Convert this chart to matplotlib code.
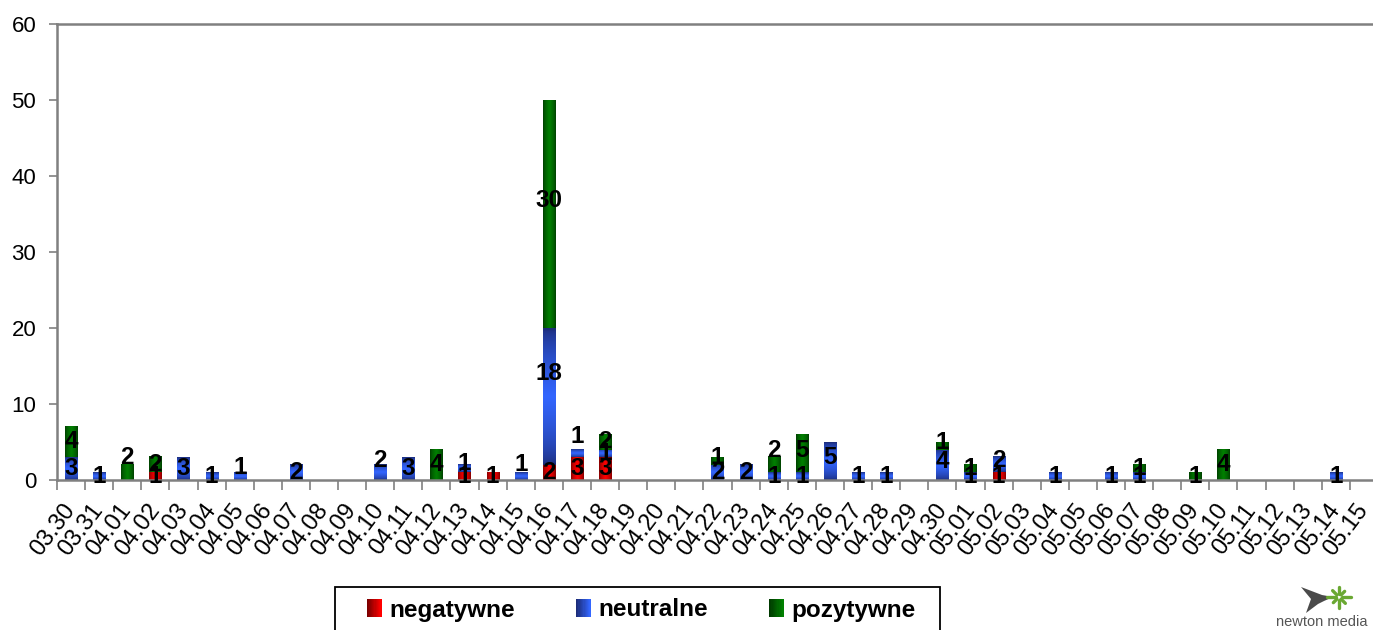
import numpy as np
import matplotlib
matplotlib.use("Agg")
import matplotlib.pyplot as plt
from matplotlib.patches import Rectangle, Polygon
from matplotlib.legend_handler import HandlerBase
from matplotlib.lines import Line2D
from matplotlib.colors import to_rgb

# ---------------- data ----------------
dates = ["03.30", "03.31",
         "04.01", "04.02", "04.03", "04.04", "04.05", "04.06", "04.07", "04.08", "04.09", "04.10",
         "04.11", "04.12", "04.13", "04.14", "04.15", "04.16", "04.17", "04.18", "04.19", "04.20",
         "04.21", "04.22", "04.23", "04.24", "04.25", "04.26", "04.27", "04.28", "04.29", "04.30",
         "05.01", "05.02", "05.03", "05.04", "05.05", "05.06", "05.07", "05.08", "05.09", "05.10",
         "05.11", "05.12", "05.13", "05.14", "05.15"]

negatywne = [0, 0, 0, 1, 0, 0, 0, 0, 0, 0,
             0, 0, 0, 0, 1, 1, 0, 2, 3, 3,
             0, 0, 0, 0, 0, 0, 0, 0, 0, 0,
             0, 0, 0, 1, 0, 0, 0, 0, 0, 0,
             0, 0, 0, 0, 0, 0, 0]
neutralne = [3, 1, 0, 0, 3, 1, 1, 0, 2, 0,
             0, 2, 3, 0, 1, 0, 1, 18, 1, 1,
             0, 0, 0, 2, 2, 1, 1, 5, 1, 1,
             0, 4, 1, 2, 0, 1, 0, 1, 1, 0,
             0, 0, 0, 0, 0, 1, 0]
pozytywne = [4, 0, 2, 2, 0, 0, 0, 0, 0, 0,
             0, 0, 0, 4, 0, 0, 0, 30, 0, 2,
             0, 0, 0, 1, 0, 2, 5, 0, 0, 0,
             0, 1, 1, 0, 0, 0, 0, 0, 1, 0,
             1, 4, 0, 0, 0, 0, 0]

series_names = ["negatywne", "neutralne", "pozytywne"]
y_ticks = [0, 10, 20, 30, 40, 50, 60]

# ---------------- style ----------------
FONT = "Liberation Sans"
plt.rcParams["font.family"] = [FONT, "DejaVu Sans"]

# gradient definitions (dark edge, bright centre), direction
grad_style = {
    "negatywne": ("#7a0000", "#ff0000", "h"),
    "neutralne": ("#1c2c78", "#3366ff", "v"),
    "pozytywne": ("#003a00", "#008000", "h"),
}
# manual label nudges (data units), mimicking the original label placement
label_nudge = {("pozytywne", 2): 1.9, ("neutralne", 6): 1.2, ("neutralne", 11): 1.6,
               ("neutralne", 16): 1.5, ("neutralne", 18): 2.2, ("pozytywne", 25): 1.9,
               ("pozytywne", 17): 1.8, ("neutralne", 17): 3.0, ("neutralne", 14): 0.7,
               ("neutralne", 33): 0.6, ("pozytywne", 23): 0.5, ("neutralne", 27): 0.4,
               ("pozytywne", 26): 0.4, ("pozytywne", 31): 0.4, ("neutralne", 31): 0.4}


def gradient(dark, bright, direction, n=64):
    d = np.array(to_rgb(dark))
    b = np.array(to_rgb(bright))
    t = np.linspace(-1, 1, n)
    w = (1 - np.abs(t)) ** 0.6
    cols = d[None, :] * (1 - w[:, None]) + b[None, :] * w[:, None]
    if direction == "h":
        return cols[None, :, :]
    return cols[:, None, :]


W, H, DPI = 1373, 630, 100
fig = plt.figure(figsize=(W / DPI, H / DPI), dpi=DPI)
x0_px, x1_px = 57, 1378
y0_px, y1_px = 480, 24
ax = fig.add_axes([x0_px / W, 1 - y0_px / H, (x1_px - x0_px) / W, (y0_px - y1_px) / H])

x = np.arange(len(dates))
values = {"negatywne": negatywne, "neutralne": neutralne, "pozytywne": pozytywne}
bottom = np.zeros(len(dates))
bar_w = 0.43
for name in series_names:
    vals = np.array(values[name], dtype=float)
    bars = ax.bar(x, vals, bar_w, bottom=bottom, color="none", edgecolor="none",
                  label=name, zorder=2)
    dark, bright, direc = grad_style[name]
    img = gradient(dark, bright, direc)
    for i, p in enumerate(bars.patches):
        if vals[i] <= 0:
            continue
        bx, by, bw, bh = p.get_x(), p.get_y(), p.get_width(), p.get_height()
        ax.imshow(img, extent=[bx, bx + bw, by, by + bh], aspect="auto",
                  interpolation="bilinear", zorder=2, origin="lower")
        ylab = by + bh / 2 + label_nudge.get((name, i), 0.0)
        ax.text(bx + bw / 2, ylab, f"{int(vals[i])}", ha="center", va="center",
                fontsize=17.5, fontweight="bold", color="black", zorder=4,
                family=[FONT, "DejaVu Sans"])
    bottom = bottom + vals

ax.set_xlim(-0.5, len(dates) - 0.5)
ax.set_ylim(0, 60)
ax.set_yticks(y_ticks)
ax.set_yticklabels([str(v) for v in y_ticks], fontsize=16)

# category boundaries as tick marks, labels on centres
ax.set_xticks(np.arange(len(dates) + 1) - 0.5)
ax.set_xticklabels([])
ax.set_xticks(x, minor=True)
ax.set_xticklabels(dates, minor=True, rotation=53, ha="right", va="center",
                   rotation_mode="anchor", fontsize=17)
ax.tick_params(axis="x", which="major", length=7, width=1.2, color="#808080", direction="out")
ax.tick_params(axis="x", which="minor", length=0, pad=19)
ax.tick_params(axis="y", length=6, width=1.2, color="#808080", direction="out", pad=9)

for s in ax.spines.values():
    s.set_color("#808080")
    s.set_linewidth(1.8)
ax.set_facecolor("white")


# legend with gradient swatches
class GradHandler(HandlerBase):
    def __init__(self, dark, bright):
        super().__init__()
        self.dark = np.array(to_rgb(dark))
        self.bright = np.array(to_rgb(bright))

    def create_artists(self, legend, orig_handle, xdescent, ydescent, width, height,
                       fontsize, trans):
        n = 12
        arts = []
        for k in range(n):
            t = k / (n - 1)
            c = self.dark * (1 - t) + self.bright * t
            r = Rectangle((-xdescent + width * k / n, -ydescent), width / n + 0.3, height,
                          facecolor=c, edgecolor="none", transform=trans)
            arts.append(r)
        return arts


# legend frame (cut by the bottom edge like the original)
fig.add_artist(Rectangle((335 / W, -0.02), (940 - 335) / W, (0.02 + 1 - 587 / H),
                         transform=fig.transFigure, facecolor="white",
                         edgecolor="black", linewidth=1.3, zorder=5))
handles = [Rectangle((0, 0), 1, 1) for _ in series_names]
hmap = {h: GradHandler(grad_style[n][0], grad_style[n][1]) for h, n in zip(handles, series_names)}
leg = fig.legend(handles, series_names, handler_map=hmap, ncol=3,
                 loc="center left", bbox_to_anchor=(367 / W, 1 - 610 / H),
                 prop={"family": FONT, "weight": "bold", "size": 17.5},
                 handlelength=0.6, handleheight=0.8, handletextpad=0.33,
                 columnspacing=2.5, borderpad=0.0, borderaxespad=0.0, frameon=False)
leg.set_zorder(6)

# small "newton media" logo
fig.text(1368 / W, 1 - 622 / H, "newton media", ha="right", va="center",
         fontsize=10.5, color="#555555", family=[FONT, "DejaVu Sans"])
fig.add_artist(Polygon([(1333 / W, 1 - 597 / H), (1322 / W, 1 - 595 / H), (1301 / W, 1 - 587 / H),
                        (1311 / W, 1 - 599 / H), (1306 / W, 1 - 613 / H), (1318 / W, 1 - 604 / H),
                        (1324 / W, 1 - 601 / H)], closed=True, transform=fig.transFigure,
                       facecolor="#4a4a4a", edgecolor="none"))
cx, cy = 1339, 597
for ang, r1 in zip(np.linspace(0, 2 * np.pi, 9)[:-1], [12, 9, 11, 8, 12, 9, 10, 8]):
    r0 = 3
    fig.add_artist(Line2D([(cx + r0 * np.cos(ang)) / W, (cx + r1 * np.cos(ang)) / W],
                          [1 - (cy + r0 * np.sin(ang)) / H, 1 - (cy + r1 * np.sin(ang)) / H],
                          color="#6aa832", lw=2.4, solid_capstyle="round"))

fig.savefig("out.png", dpi=DPI, facecolor="white")
